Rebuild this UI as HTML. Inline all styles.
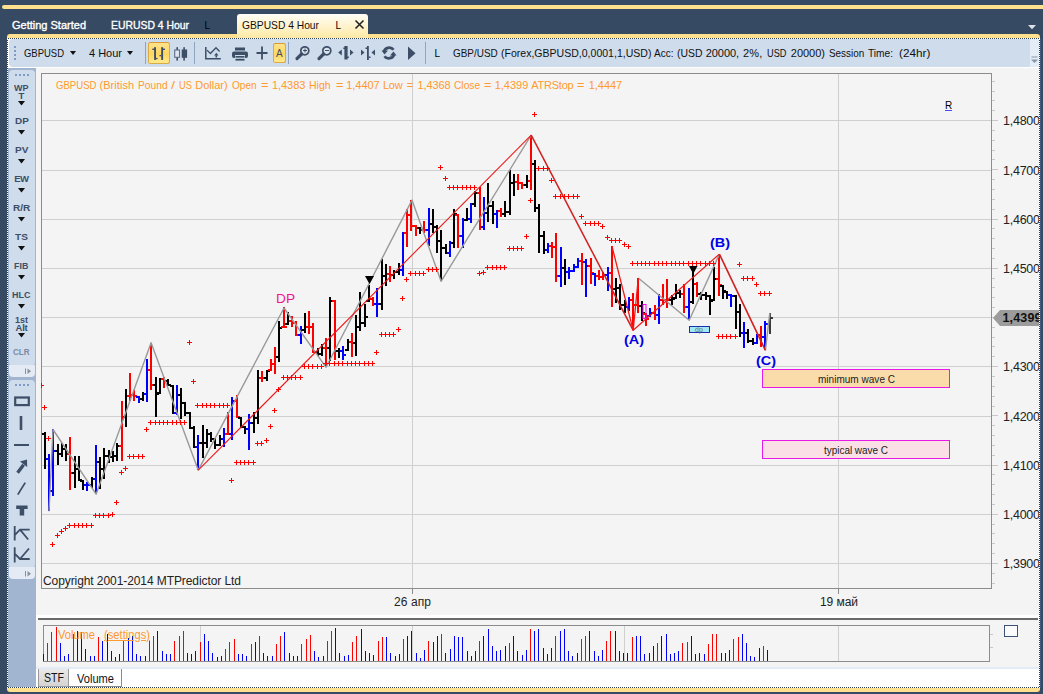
<!DOCTYPE html><html><head><meta charset="utf-8"><title>chart</title><style>
*{margin:0;padding:0;box-sizing:border-box}
html,body{width:1043px;height:694px;overflow:hidden;background:#374a63;font-family:"Liberation Sans",sans-serif;}
.abs{position:absolute}
#root{position:relative;width:1043px;height:694px;overflow:hidden;background:#374a63}
.t{position:absolute;white-space:nowrap;line-height:1}
</style></head><body><div id="root">
<div class="abs" style="left:2px;top:5px;width:1041px;height:4px;background:#ffe08f;border-radius:3px 0 0 3px"></div>
<div class="t" style="left:12px;top:20px;font-size:11px;color:#fff;letter-spacing:0.001px;-webkit-text-stroke:0.35px #fff;">Getting Started</div>
<div class="t" style="left:111px;top:20px;font-size:11px;color:#fff;transform-origin:0 0;transform:scaleX(0.9452);-webkit-text-stroke:0.35px #fff;">EURUSD 4 Hour</div>
<div class="t" style="left:204.5px;top:20.5px;font-size:10px;color:#000;">L</div>
<div class="abs" style="left:7px;top:34px;width:1033px;height:4px;background:#ffe08f;border-radius:3px 3px 0 0"></div>
<div class="abs" style="left:237px;top:14px;width:131px;height:24px;background:linear-gradient(#fffef6,#ffe9a4);border-radius:3px 3px 0 0"></div>
<div class="t" style="left:242px;top:20px;font-size:11px;color:#111;transform-origin:0 0;transform:scaleX(0.9330);">GBPUSD 4 Hour</div>
<div class="t" style="left:335.5px;top:20.5px;font-size:10px;color:#000;">L</div>
<svg class="abs" style="left:354px;top:19px" width="11" height="11"><path d="M1.5 1.5 L9.5 9.5 M9.5 1.5 L1.5 9.5" stroke="#222" stroke-width="1.6" fill="none"/></svg>
<svg class="abs" style="left:1028px;top:25px" width="9" height="5"><path d="M0 0 L8 0 L4 4.2 Z" fill="#dde1e8"/></svg>
<div class="abs" style="left:7px;top:38px;width:1033px;height:650px;background:#2f3f55;"></div>
<div class="abs" style="left:7px;top:38px;width:1033px;height:650px;background:#fff;border:1px dotted #fff;background-clip:padding-box"></div>
<div class="abs" style="left:9px;top:39px;width:1021px;height:27.5px;background:#cfdcec;border-radius:4px 0 0 4px"></div>
<div class="abs" style="left:1030px;top:39px;width:9px;height:27.5px;background:#e4ecf6;"></div>
<div class="abs" style="left:8px;top:68px;width:28px;height:619px;background:#a1b4d0;"></div>
<div class="abs" style="left:36px;top:68px;width:1003px;height:548px;background:#f4f4f4;"></div>
<div class="abs" style="left:36px;top:615px;width:1003px;height:3px;background:#fff;"></div>
<div class="abs" style="left:38px;top:618px;width:1000px;height:2px;background:#6a6a6a;"></div>
<div class="abs" style="left:36px;top:620px;width:1003px;height:48px;background:#f4f4f4;"></div>
<div class="abs" style="left:36px;top:667px;width:1003px;height:2px;background:#e3ebf7;"></div>
<div class="abs" style="left:7px;top:688px;width:1033px;height:4px;background:#ffe08f;border-radius:0 0 3px 3px"></div>
<div class="abs" style="left:1040px;top:39px;width:1px;height:649px;background:#41597c;"></div>
<div class="abs" style="left:14px;top:46px;width:2px;height:2px;background:#7f9ac3;"></div>
<div class="abs" style="left:14px;top:50px;width:2px;height:2px;background:#7f9ac3;"></div>
<div class="abs" style="left:14px;top:54px;width:2px;height:2px;background:#7f9ac3;"></div>
<div class="abs" style="left:14px;top:58px;width:2px;height:2px;background:#7f9ac3;"></div>
<div class="t" style="left:24px;top:48px;font-size:11px;color:#111;transform-origin:0 0;transform:scaleX(0.8610);">GBPUSD</div>
<svg class="abs" style="left:70px;top:51px" width="7" height="5"><path d="M0 0 L6 0 L3 4 Z" fill="#111"/></svg>
<div class="t" style="left:89px;top:48px;font-size:11px;color:#111;letter-spacing:-0.003px;">4 Hour</div>
<svg class="abs" style="left:127px;top:51px" width="7" height="5"><path d="M0 0 L6 0 L3 4 Z" fill="#111"/></svg>
<div class="abs" style="left:145px;top:42px;width:1px;height:22px;background:#8fa3c2;"></div>
<div class="abs" style="left:194px;top:42px;width:1px;height:22px;background:#8fa3c2;"></div>
<div class="abs" style="left:288px;top:42px;width:1px;height:22px;background:#8fa3c2;"></div>
<div class="abs" style="left:425px;top:42px;width:1px;height:22px;background:#8fa3c2;"></div>
<div class="abs" style="left:148px;top:42px;width:22px;height:22px;background:linear-gradient(#ffe38c,#ffd65e 55%,#ffe98f);border:1px solid #dcaa44;border-top-color:#d59a36;border-radius:2.5px"></div>
<svg class="abs" style="left:148px;top:42px" width="22" height="22"><g fill="#3d4e67"><rect x="6.1" y="5.2" width="1.9" height="12.700"/><rect x="4.300" y="6.600" width="2" height="1.400"/><rect x="8" y="15.900" width="1.600" height="1.300"/><rect x="13.200" y="5.200" width="1.900" height="12.700"/><rect x="15" y="6.600" width="2" height="1.400"/><rect x="11.500" y="13" width="1.800" height="1.300"/></g></svg>
<svg class="abs" style="left:172px;top:42px" width="18" height="22"><g fill="#3d4e67"><rect x="4.400" y="5.200" width="1.600" height="13.400"/><rect x="11.300" y="5.200" width="1.600" height="13.400"/><rect x="9.700" y="7.500" width="5.400" height="8.300"/></g><rect x="2.700" y="8" width="4.800" height="7.300" fill="#dfe6f0" stroke="#5d6d87" stroke-width="1.100"/></svg>
<svg class="abs" style="left:204px;top:45px" width="18" height="16"><g stroke="#3d4e67" stroke-width="1.500" fill="none"><path d="M1.800 2 V13.800 H16.800"/><path d="M3 5.100 L6.400 8.500 L12 2.800 L15.600 6.500" stroke-width="1.300"/></g><path d="M12.300 7.800 L14.500 10.400 H10.100 Z" fill="#3d4e67"/><rect x="11.500" y="10.200" width="1.600" height="2.300" fill="#3d4e67"/></svg>
<svg class="abs" style="left:231px;top:45.700px" width="18" height="16"><g fill="#3d4e67"><rect x="4" y="1.5" width="10" height="3"/><rect x="1" y="5.5" width="16" height="6.5" rx="2"/><rect x="4" y="9" width="10" height="6" fill="#cfdcec"/><rect x="4.5" y="10" width="9" height="1.6"/><rect x="4.5" y="12.8" width="9" height="1.8"/></g></svg>
<svg class="abs" style="left:255.500px;top:46px" width="13" height="14"><path d="M6 0.5 V13.5 M0.5 7 H11.5" stroke="#3d4e67" stroke-width="1.8"/></svg>
<div class="abs" style="left:273px;top:43px;width:13px;height:20px;background:linear-gradient(#ffe38c,#ffd65e 55%,#ffe98f);border:1px solid #dcaa44;border-top-color:#d59a36;border-radius:2.5px"></div>
<div class="t" style="left:276px;top:49px;font-size:10px;color:#3d4e67;">A</div>
<svg class="abs" style="left:294px;top:46px" width="18" height="15"><circle cx="10.800" cy="4.800" r="4" fill="#d9e2ef" stroke="#3d4e67" stroke-width="1.700"/><path d="M7.600 8 L3 12.600" stroke="#3d4e67" stroke-width="3.200" stroke-linecap="round"/><path d="M9 4.5 H13" stroke="#3d4e67" stroke-width="1"/><path d="M11 2.5 V6.5" stroke="#3d4e67" stroke-width="1"/></svg>
<svg class="abs" style="left:316px;top:46px" width="18" height="15"><circle cx="10.800" cy="4.800" r="4" fill="#d9e2ef" stroke="#3d4e67" stroke-width="1.700"/><path d="M7.600 8 L3 12.600" stroke="#3d4e67" stroke-width="3.200" stroke-linecap="round"/><path d="M9 4.5 H13" stroke="#3d4e67" stroke-width="1"/></svg>
<svg class="abs" style="left:337px;top:45px" width="18" height="16"><g fill="#3d4e67"><rect x="7.400" y="1" width="3.200" height="13.500"/><rect x="6.300" y="2.500" width="2" height="1.500"/><rect x="10" y="11.500" width="1.800" height="1.500"/><path d="M4.800 4.500 V10.500 L1.200 7.500 Z"/><path d="M13 4.500 V10.500 L16.600 7.500 Z"/></g></svg>
<svg class="abs" style="left:359px;top:45px" width="18" height="16"><g fill="#3d4e67"><rect x="8" y="1" width="1.8" height="14"/><rect x="6.5" y="2.5" width="2" height="1.5"/><rect x="9.5" y="11.5" width="2" height="1.5"/><path d="M2 4.5 V10.5 L5.5 7.5 Z"/><path d="M16 4.5 V10.5 L12.5 7.5 Z"/></g></svg>
<svg class="abs" style="left:381px;top:46px" width="16" height="14"><g fill="none" stroke="#3d4e67" stroke-width="2.800"><path d="M12.500 3.800 A5 4.200 0 0 0 3.200 5.500"/><path d="M3.500 10.200 A5 4.200 0 0 0 12.800 8.500"/></g><path d="M0.5 4.5 H7 L3.5 8.5 Z M15.5 9.5 H9 L12.5 5.5 Z" fill="#3d4e67"/></svg>
<svg class="abs" style="left:407px;top:46px" width="10" height="15"><path d="M1 0.5 L8.5 7.2 L1 14 Z" fill="#3d4e67"/></svg>
<div class="t" style="left:434.5px;top:48.5px;font-size:10px;color:#000;">L</div>
<div class="t" style="left:452.6px;top:47.5px;font-size:11px;color:#111;transform-origin:0 0;transform:scaleX(0.9028);">GBP/USD</div>
<div class="t" style="left:500.7px;top:47.5px;font-size:11px;color:#111;transform-origin:0 0;transform:scaleX(0.9573);">(Forex,GBPUSD,0,0001,1,USD)</div>
<div class="t" style="left:654.1px;top:47.5px;font-size:11px;color:#111;transform-origin:0 0;transform:scaleX(0.9114);">Acc:</div>
<div class="t" style="left:677.4px;top:47.5px;font-size:11px;color:#111;transform-origin:0 0;transform:scaleX(0.9446);">(USD</div>
<div class="t" style="left:705.8px;top:47.5px;font-size:11px;color:#111;letter-spacing:-0.089px;">20000,</div>
<div class="t" style="left:742.9px;top:47.5px;font-size:11px;color:#111;letter-spacing:0.222px;">2%,</div>
<div class="t" style="left:766.7px;top:47.5px;font-size:11px;color:#111;transform-origin:0 0;transform:scaleX(0.8353);">USD</div>
<div class="t" style="left:790.8px;top:47.5px;font-size:11px;color:#111;letter-spacing:-0.030px;">20000)</div>
<div class="t" style="left:828.8px;top:47.5px;font-size:11px;color:#111;transform-origin:0 0;transform:scaleX(0.8995);">Session</div>
<div class="t" style="left:868.4px;top:47.5px;font-size:11px;color:#111;transform-origin:0 0;transform:scaleX(0.9265);">Time:</div>
<div class="t" style="left:898.7px;top:47.5px;font-size:11px;color:#111;transform-origin:0 0;transform:scaleX(1.0667);">(24hr)</div>
<svg class="abs" style="left:1031px;top:56px" width="8" height="8"><path d="M0.5 1 H6.5" stroke="#8795ab" stroke-width="1"/><path d="M0 3.5 L7 3.5 L3.5 7 Z" fill="#8795ab"/></svg>
<div class="abs" style="left:9px;top:70px;width:25.5px;height:296px;background:#cfdcec;border-radius:4px 4px 4px 4px"></div>
<div class="abs" style="left:9px;top:365px;width:25.5px;height:12px;background:#e4ebf5;border-radius:0 0 4px 4px"></div>
<div class="abs" style="left:15px;top:74px;width:2px;height:1.5px;background:#7f9ac3;"></div>
<div class="abs" style="left:19px;top:74px;width:2px;height:1.5px;background:#7f9ac3;"></div>
<div class="abs" style="left:23px;top:74px;width:2px;height:1.5px;background:#7f9ac3;"></div>
<div class="abs" style="left:27px;top:74px;width:2px;height:1.5px;background:#7f9ac3;"></div>
<div class="t" style="left:14.35px;top:83.2px;font-size:9.5px;color:#3d4e67;font-weight:bold;transform-origin:0 0;transform:scaleX(0.9475);">WP</div>
<div class="t" style="left:18.6px;top:91.2px;font-size:9.5px;color:#3d4e67;font-weight:bold;letter-spacing:0.197px;">T</div>
<svg class="abs" style="left:18px;top:101px" width="8" height="5"><path d="M0 0 L7 0 L3.5 4.5 Z" fill="#111"/></svg>
<div class="t" style="left:14.7px;top:115.5px;font-size:9.5px;color:#3d4e67;font-weight:bold;transform-origin:0 0;transform:scaleX(1.0457);">DP</div>
<svg class="abs" style="left:18px;top:130px" width="8" height="5"><path d="M0 0 L7 0 L3.5 4.5 Z" fill="#111"/></svg>
<div class="t" style="left:14.9px;top:144.5px;font-size:9.5px;color:#3d4e67;font-weight:bold;transform-origin:0 0;transform:scaleX(1.0575);">PV</div>
<svg class="abs" style="left:18px;top:159px" width="8" height="5"><path d="M0 0 L7 0 L3.5 4.5 Z" fill="#111"/></svg>
<div class="t" style="left:14.25px;top:173.5px;font-size:9.5px;color:#3d4e67;font-weight:bold;letter-spacing:-0.603px;">EW</div>
<svg class="abs" style="left:18px;top:188px" width="8" height="5"><path d="M0 0 L7 0 L3.5 4.5 Z" fill="#111"/></svg>
<div class="t" style="left:12.95px;top:202.5px;font-size:9.5px;color:#3d4e67;font-weight:bold;transform-origin:0 0;transform:scaleX(1.0574);">R/R</div>
<svg class="abs" style="left:18px;top:217px" width="8" height="5"><path d="M0 0 L7 0 L3.5 4.5 Z" fill="#111"/></svg>
<div class="t" style="left:15.15px;top:231.5px;font-size:9.5px;color:#3d4e67;font-weight:bold;transform-origin:0 0;transform:scaleX(1.0627);">TS</div>
<svg class="abs" style="left:18px;top:246px" width="8" height="5"><path d="M0 0 L7 0 L3.5 4.5 Z" fill="#111"/></svg>
<div class="t" style="left:14.45px;top:260.5px;font-size:9.5px;color:#3d4e67;font-weight:bold;transform-origin:0 0;transform:scaleX(0.9345);">FIB</div>
<svg class="abs" style="left:18px;top:275px" width="8" height="5"><path d="M0 0 L7 0 L3.5 4.5 Z" fill="#111"/></svg>
<div class="t" style="left:12.4px;top:289.5px;font-size:9.5px;color:#3d4e67;font-weight:bold;transform-origin:0 0;transform:scaleX(0.9424);">HLC</div>
<svg class="abs" style="left:18px;top:304px" width="8" height="5"><path d="M0 0 L7 0 L3.5 4.5 Z" fill="#111"/></svg>
<div class="t" style="left:15.15px;top:314.5px;font-size:9.5px;color:#3d4e67;font-weight:bold;transform-origin:0 0;transform:scaleX(0.9395);">1st</div>
<div class="t" style="left:15.5px;top:322.5px;font-size:9.5px;color:#3d4e67;font-weight:bold;letter-spacing:-0.232px;">Alt</div>
<svg class="abs" style="left:18px;top:333px" width="8" height="5"><path d="M0 0 L7 0 L3.5 4.5 Z" fill="#111"/></svg>
<div class="t" style="left:13.3px;top:347.5px;font-size:9px;color:#7b8aa3;font-weight:bold;transform-origin:0 0;transform:scaleX(0.8974);">CLR</div>
<svg class="abs" style="left:25px;top:368px" width="7" height="7"><path d="M0.5 0.5 V6" stroke="#8a8f98" stroke-width="1"/><path d="M2.5 0.5 L6 3.2 L2.5 6 Z" fill="#8a8f98"/></svg>
<div class="abs" style="left:9px;top:380px;width:25.5px;height:188px;background:#cfdcec;border-radius:4px"></div>
<div class="abs" style="left:9px;top:567px;width:25.5px;height:11.5px;background:#e4ebf5;border-radius:0 0 4px 4px"></div>
<div class="abs" style="left:15px;top:384px;width:2px;height:1.5px;background:#7f9ac3;"></div>
<div class="abs" style="left:19px;top:384px;width:2px;height:1.5px;background:#7f9ac3;"></div>
<div class="abs" style="left:23px;top:384px;width:2px;height:1.5px;background:#7f9ac3;"></div>
<div class="abs" style="left:27px;top:384px;width:2px;height:1.5px;background:#7f9ac3;"></div>
<svg class="abs" style="left:9px;top:380px" width="26" height="200"><g stroke="#3d4e67" fill="none"><rect x="6.2" y="17.5" width="13.6" height="7.6" stroke-width="2.2"/><path d="M12 36 V50" stroke-width="2.6"/><path d="M5 65 H20" stroke-width="2"/><path d="M8.6 92.8 L14.6 84.8" stroke-width="3.4"/><path d="M8.8 114.6 L16.2 102.6" stroke-width="1.8"/><path d="M5.700 146 V160.500 M5.700 155.200 L11 149.700 H20.700 M11 149.700 L19.200 159.500" stroke-width="1.8"/><path d="M5.700 167.300 V182.500 M5.700 173.600 L11 179 H20.700 M11 179 L20 168.500" stroke-width="1.8"/></g><path d="M11 81.600 L18 79.400 L18.200 87 Z" fill="#3d4e67"/><path d="M7.200 125.400 H18.600 V129 H15.200 V135.600 H10.700 V129 H7.200 Z" fill="#3d4e67"/><path d="M16.500 191 V196.500" stroke="#8a8f98" stroke-width="1"/><path d="M18.500 191 L22 193.700 L18.500 196.500 Z" fill="#8a8f98"/></svg>
<div class="abs" style="left:36px;top:669px;width:1003px;height:18px;background:#fff;"></div>
<div class="abs" style="left:38px;top:669px;width:31px;height:18px;background:linear-gradient(#e9e9e9,#d4d4d4);border:1px solid #9a9a9a;border-top:none"></div>
<div class="t" style="left:44px;top:672px;font-size:12px;color:#111;transform-origin:0 0;transform:scaleX(0.8825);">STF</div>
<div class="abs" style="left:69px;top:669px;width:53px;height:18px;background:#fff;border-right:1px solid #8a8a8a;border-bottom:1px solid #8a8a8a"></div>
<div class="t" style="left:77px;top:673px;font-size:12px;color:#111;transform-origin:0 0;transform:scaleX(0.9244);">Volume</div>
<div class="abs" style="left:1004px;top:625px;width:14px;height:12px;background:#fbfbfd;border:1px solid #3d5277"></div>
<svg class="abs" style="left:0;top:0" width="1043" height="694" shape-rendering="auto">
<rect x="41.5" y="73.5" width="950" height="515" fill="#f4f4f4" stroke="#8c8c8c" stroke-width="1"/>
<rect x="42" y="120" width="949" height="1" fill="#cfcfcf"/>
<rect x="42" y="170" width="949" height="1" fill="#cfcfcf"/>
<rect x="42" y="219" width="949" height="1" fill="#cfcfcf"/>
<rect x="42" y="268" width="949" height="1" fill="#cfcfcf"/>
<rect x="42" y="317" width="949" height="1" fill="#cfcfcf"/>
<rect x="42" y="366" width="949" height="1" fill="#cfcfcf"/>
<rect x="42" y="416" width="949" height="1" fill="#cfcfcf"/>
<rect x="42" y="465" width="949" height="1" fill="#cfcfcf"/>
<rect x="42" y="514" width="949" height="1" fill="#cfcfcf"/>
<rect x="42" y="563" width="949" height="1" fill="#cfcfcf"/>
<rect x="412" y="74" width="1" height="514" fill="#cfcfcf"/>
<rect x="412" y="589" width="1" height="5" fill="#8c8c8c"/>
<rect x="838" y="74" width="1" height="514" fill="#cfcfcf"/>
<rect x="838" y="589" width="1" height="5" fill="#8c8c8c"/>
<rect x="992" y="81" width="3" height="1" fill="#c8c8c8"/>
<rect x="992" y="91" width="3" height="1" fill="#c8c8c8"/>
<rect x="992" y="100" width="3" height="1" fill="#c8c8c8"/>
<rect x="992" y="110" width="3" height="1" fill="#c8c8c8"/>
<rect x="992" y="120" width="6" height="1" fill="#c8c8c8"/>
<rect x="992" y="130" width="3" height="1" fill="#c8c8c8"/>
<rect x="992" y="140" width="3" height="1" fill="#c8c8c8"/>
<rect x="992" y="150" width="3" height="1" fill="#c8c8c8"/>
<rect x="992" y="159" width="3" height="1" fill="#c8c8c8"/>
<rect x="992" y="169" width="6" height="1" fill="#c8c8c8"/>
<rect x="992" y="179" width="3" height="1" fill="#c8c8c8"/>
<rect x="992" y="189" width="3" height="1" fill="#c8c8c8"/>
<rect x="992" y="199" width="3" height="1" fill="#c8c8c8"/>
<rect x="992" y="209" width="3" height="1" fill="#c8c8c8"/>
<rect x="992" y="219" width="6" height="1" fill="#c8c8c8"/>
<rect x="992" y="228" width="3" height="1" fill="#c8c8c8"/>
<rect x="992" y="238" width="3" height="1" fill="#c8c8c8"/>
<rect x="992" y="248" width="3" height="1" fill="#c8c8c8"/>
<rect x="992" y="258" width="3" height="1" fill="#c8c8c8"/>
<rect x="992" y="268" width="6" height="1" fill="#c8c8c8"/>
<rect x="992" y="278" width="3" height="1" fill="#c8c8c8"/>
<rect x="992" y="287" width="3" height="1" fill="#c8c8c8"/>
<rect x="992" y="297" width="3" height="1" fill="#c8c8c8"/>
<rect x="992" y="307" width="3" height="1" fill="#c8c8c8"/>
<rect x="992" y="317" width="6" height="1" fill="#c8c8c8"/>
<rect x="992" y="327" width="3" height="1" fill="#c8c8c8"/>
<rect x="992" y="337" width="3" height="1" fill="#c8c8c8"/>
<rect x="992" y="346" width="3" height="1" fill="#c8c8c8"/>
<rect x="992" y="356" width="3" height="1" fill="#c8c8c8"/>
<rect x="992" y="366" width="6" height="1" fill="#c8c8c8"/>
<rect x="992" y="376" width="3" height="1" fill="#c8c8c8"/>
<rect x="992" y="386" width="3" height="1" fill="#c8c8c8"/>
<rect x="992" y="396" width="3" height="1" fill="#c8c8c8"/>
<rect x="992" y="406" width="3" height="1" fill="#c8c8c8"/>
<rect x="992" y="415" width="6" height="1" fill="#c8c8c8"/>
<rect x="992" y="425" width="3" height="1" fill="#c8c8c8"/>
<rect x="992" y="435" width="3" height="1" fill="#c8c8c8"/>
<rect x="992" y="445" width="3" height="1" fill="#c8c8c8"/>
<rect x="992" y="455" width="3" height="1" fill="#c8c8c8"/>
<rect x="992" y="465" width="6" height="1" fill="#c8c8c8"/>
<rect x="992" y="474" width="3" height="1" fill="#c8c8c8"/>
<rect x="992" y="484" width="3" height="1" fill="#c8c8c8"/>
<rect x="992" y="494" width="3" height="1" fill="#c8c8c8"/>
<rect x="992" y="504" width="3" height="1" fill="#c8c8c8"/>
<rect x="992" y="514" width="6" height="1" fill="#c8c8c8"/>
<rect x="992" y="524" width="3" height="1" fill="#c8c8c8"/>
<rect x="992" y="533" width="3" height="1" fill="#c8c8c8"/>
<rect x="992" y="543" width="3" height="1" fill="#c8c8c8"/>
<rect x="992" y="553" width="3" height="1" fill="#c8c8c8"/>
<rect x="992" y="563" width="6" height="1" fill="#c8c8c8"/>
<rect x="992" y="573" width="3" height="1" fill="#c8c8c8"/>
<rect x="992" y="583" width="3" height="1" fill="#c8c8c8"/>
<g clip-path="url(#cp)">
<clipPath id="cp"><rect x="42" y="74" width="949" height="514"/></clipPath>
<g fill="#000"><rect x="44" y="432" width="2" height="37"/><rect x="42" y="433" width="2" height="2"/><rect x="46" y="458" width="2" height="2"/></g>
<g fill="#0000ff"><rect x="48" y="454" width="2" height="57"/><rect x="46" y="458" width="2" height="2"/><rect x="50" y="490" width="2" height="2"/></g>
<g fill="#0000ff"><rect x="52" y="429" width="2" height="67"/><rect x="50" y="490" width="2" height="2"/><rect x="54" y="450" width="2" height="2"/></g>
<g fill="#000"><rect x="57" y="444" width="2" height="21"/><rect x="55" y="450" width="2" height="2"/><rect x="59" y="453" width="2" height="2"/></g>
<g fill="#000"><rect x="61" y="443" width="2" height="14"/><rect x="59" y="453" width="2" height="2"/><rect x="63" y="448" width="2" height="2"/></g>
<g fill="#000"><rect x="65" y="444" width="2" height="17"/><rect x="63" y="448" width="2" height="2"/><rect x="67" y="453" width="2" height="2"/></g>
<g fill="#ff0000"><rect x="69" y="437" width="2" height="53"/><rect x="67" y="453" width="2" height="2"/><rect x="71" y="472" width="2" height="2"/></g>
<g fill="#000"><rect x="74" y="456" width="2" height="32"/><rect x="72" y="472" width="2" height="2"/><rect x="76" y="468" width="2" height="2"/></g>
<g fill="#000"><rect x="78" y="456" width="2" height="25"/><rect x="76" y="468" width="2" height="2"/><rect x="80" y="479" width="2" height="2"/></g>
<g fill="#000"><rect x="82" y="480" width="2" height="10"/><rect x="80" y="480" width="2" height="2"/><rect x="84" y="484" width="2" height="2"/></g>
<g fill="#0000ff"><rect x="86" y="482" width="2" height="9"/><rect x="84" y="484" width="2" height="2"/><rect x="88" y="484" width="2" height="2"/></g>
<g fill="#000"><rect x="91" y="477" width="2" height="11"/><rect x="89" y="484" width="2" height="2"/><rect x="93" y="478" width="2" height="2"/></g>
<g fill="#0000ff"><rect x="95" y="445" width="2" height="49"/><rect x="93" y="478" width="2" height="2"/><rect x="97" y="461" width="2" height="2"/></g>
<g fill="#000"><rect x="99" y="457" width="2" height="32"/><rect x="97" y="461" width="2" height="2"/><rect x="101" y="468" width="2" height="2"/></g>
<g fill="#000"><rect x="103" y="448" width="2" height="31"/><rect x="101" y="468" width="2" height="2"/><rect x="105" y="455" width="2" height="2"/></g>
<g fill="#000"><rect x="108" y="450" width="2" height="13"/><rect x="106" y="455" width="2" height="2"/><rect x="110" y="456" width="2" height="2"/></g>
<g fill="#000"><rect x="112" y="451" width="2" height="11"/><rect x="110" y="456" width="2" height="2"/><rect x="114" y="455" width="2" height="2"/></g>
<g fill="#000"><rect x="116" y="443" width="2" height="18"/><rect x="114" y="455" width="2" height="2"/><rect x="118" y="445" width="2" height="2"/></g>
<g fill="#ff0000"><rect x="121" y="401" width="2" height="60"/><rect x="119" y="445" width="2" height="2"/><rect x="123" y="416" width="2" height="2"/></g>
<g fill="#000"><rect x="125" y="389" width="2" height="38"/><rect x="123" y="416" width="2" height="2"/><rect x="127" y="395" width="2" height="2"/></g>
<g fill="#ff0000"><rect x="129" y="373" width="2" height="28"/><rect x="127" y="395" width="2" height="2"/><rect x="131" y="394" width="2" height="2"/></g>
<g fill="#ff0000"><rect x="133" y="390" width="2" height="11"/><rect x="131" y="394" width="2" height="2"/><rect x="135" y="395" width="2" height="2"/></g>
<g fill="#0000ff"><rect x="138" y="396" width="2" height="7"/><rect x="136" y="396" width="2" height="2"/><rect x="140" y="398" width="2" height="2"/></g>
<g fill="#000"><rect x="142" y="392" width="2" height="9"/><rect x="140" y="398" width="2" height="2"/><rect x="144" y="393" width="2" height="2"/></g>
<g fill="#0000ff"><rect x="146" y="359" width="2" height="43"/><rect x="144" y="393" width="2" height="2"/><rect x="148" y="369" width="2" height="2"/></g>
<g fill="#ff0000"><rect x="150" y="343" width="2" height="47"/><rect x="148" y="369" width="2" height="2"/><rect x="152" y="384" width="2" height="2"/></g>
<g fill="#000"><rect x="155" y="377" width="2" height="40"/><rect x="153" y="384" width="2" height="2"/><rect x="157" y="393" width="2" height="2"/></g>
<g fill="#000"><rect x="159" y="378" width="2" height="16"/><rect x="157" y="392" width="2" height="2"/><rect x="161" y="378" width="2" height="2"/></g>
<g fill="#ff0000"><rect x="163" y="377" width="2" height="11"/><rect x="161" y="378" width="2" height="2"/><rect x="165" y="380" width="2" height="2"/></g>
<g fill="#000"><rect x="167" y="379" width="2" height="7"/><rect x="165" y="380" width="2" height="2"/><rect x="169" y="384" width="2" height="2"/></g>
<g fill="#000"><rect x="172" y="385" width="2" height="29"/><rect x="170" y="385" width="2" height="2"/><rect x="174" y="412" width="2" height="2"/></g>
<g fill="#0000ff"><rect x="176" y="385" width="2" height="30"/><rect x="174" y="412" width="2" height="2"/><rect x="178" y="394" width="2" height="2"/></g>
<g fill="#000"><rect x="180" y="388" width="2" height="31"/><rect x="178" y="394" width="2" height="2"/><rect x="182" y="402" width="2" height="2"/></g>
<g fill="#000"><rect x="184" y="402" width="2" height="14"/><rect x="182" y="402" width="2" height="2"/><rect x="186" y="412" width="2" height="2"/></g>
<g fill="#000"><rect x="189" y="412" width="2" height="17"/><rect x="187" y="412" width="2" height="2"/><rect x="191" y="427" width="2" height="2"/></g>
<g fill="#000"><rect x="193" y="426" width="2" height="22"/><rect x="191" y="427" width="2" height="2"/><rect x="195" y="446" width="2" height="2"/></g>
<g fill="#0000ff"><rect x="197" y="435" width="2" height="35"/><rect x="195" y="446" width="2" height="2"/><rect x="199" y="442" width="2" height="2"/></g>
<g fill="#000"><rect x="202" y="425" width="2" height="33"/><rect x="200" y="442" width="2" height="2"/><rect x="204" y="442" width="2" height="2"/></g>
<g fill="#000"><rect x="206" y="429" width="2" height="19"/><rect x="204" y="442" width="2" height="2"/><rect x="208" y="433" width="2" height="2"/></g>
<g fill="#000"><rect x="210" y="432" width="2" height="10"/><rect x="208" y="433" width="2" height="2"/><rect x="212" y="438" width="2" height="2"/></g>
<g fill="#000"><rect x="214" y="438" width="2" height="11"/><rect x="212" y="438" width="2" height="2"/><rect x="216" y="444" width="2" height="2"/></g>
<g fill="#000"><rect x="219" y="435" width="2" height="11"/><rect x="217" y="444" width="2" height="2"/><rect x="221" y="438" width="2" height="2"/></g>
<g fill="#0000ff"><rect x="223" y="428" width="2" height="19"/><rect x="221" y="438" width="2" height="2"/><rect x="225" y="433" width="2" height="2"/></g>
<g fill="#ff0000"><rect x="227" y="412" width="2" height="23"/><rect x="225" y="433" width="2" height="2"/><rect x="229" y="433" width="2" height="2"/></g>
<g fill="#0000ff"><rect x="231" y="397" width="2" height="43"/><rect x="229" y="433" width="2" height="2"/><rect x="233" y="400" width="2" height="2"/></g>
<g fill="#ff0000"><rect x="236" y="395" width="2" height="23"/><rect x="234" y="400" width="2" height="2"/><rect x="238" y="416" width="2" height="2"/></g>
<g fill="#000"><rect x="240" y="417" width="2" height="11"/><rect x="238" y="417" width="2" height="2"/><rect x="242" y="426" width="2" height="2"/></g>
<g fill="#000"><rect x="244" y="426" width="2" height="8"/><rect x="242" y="426" width="2" height="2"/><rect x="246" y="428" width="2" height="2"/></g>
<g fill="#0000ff"><rect x="248" y="414" width="2" height="36"/><rect x="246" y="428" width="2" height="2"/><rect x="250" y="422" width="2" height="2"/></g>
<g fill="#000"><rect x="253" y="412" width="2" height="21"/><rect x="251" y="422" width="2" height="2"/><rect x="255" y="417" width="2" height="2"/></g>
<g fill="#000"><rect x="257" y="370" width="2" height="54"/><rect x="255" y="417" width="2" height="2"/><rect x="259" y="377" width="2" height="2"/></g>
<g fill="#ff0000"><rect x="261" y="371" width="2" height="11"/><rect x="259" y="377" width="2" height="2"/><rect x="263" y="377" width="2" height="2"/></g>
<g fill="#000"><rect x="266" y="370" width="2" height="11"/><rect x="264" y="377" width="2" height="2"/><rect x="268" y="370" width="2" height="2"/></g>
<g fill="#ff0000"><rect x="270" y="359" width="2" height="12"/><rect x="268" y="369" width="2" height="2"/><rect x="272" y="363" width="2" height="2"/></g>
<g fill="#ff0000"><rect x="274" y="347" width="2" height="27"/><rect x="272" y="363" width="2" height="2"/><rect x="276" y="356" width="2" height="2"/></g>
<g fill="#000"><rect x="278" y="321" width="2" height="41"/><rect x="276" y="356" width="2" height="2"/><rect x="280" y="327" width="2" height="2"/></g>
<g fill="#ff0000"><rect x="283" y="307" width="2" height="21"/><rect x="281" y="326" width="2" height="2"/><rect x="285" y="326" width="2" height="2"/></g>
<g fill="#000"><rect x="287" y="312" width="2" height="13"/><rect x="285" y="323" width="2" height="2"/><rect x="289" y="320" width="2" height="2"/></g>
<g fill="#ff0000"><rect x="291" y="316" width="2" height="11"/><rect x="289" y="320" width="2" height="2"/><rect x="293" y="322" width="2" height="2"/></g>
<g fill="#ff0000"><rect x="295" y="321" width="2" height="15"/><rect x="293" y="322" width="2" height="2"/><rect x="297" y="334" width="2" height="2"/></g>
<g fill="#0000ff"><rect x="300" y="326" width="2" height="18"/><rect x="298" y="334" width="2" height="2"/><rect x="302" y="329" width="2" height="2"/></g>
<g fill="#000"><rect x="304" y="313" width="2" height="20"/><rect x="302" y="329" width="2" height="2"/><rect x="306" y="326" width="2" height="2"/></g>
<g fill="#ff0000"><rect x="308" y="311" width="2" height="23"/><rect x="306" y="326" width="2" height="2"/><rect x="310" y="326" width="2" height="2"/></g>
<g fill="#ff0000"><rect x="312" y="323" width="2" height="30"/><rect x="310" y="326" width="2" height="2"/><rect x="314" y="351" width="2" height="2"/></g>
<g fill="#000"><rect x="317" y="348" width="2" height="8"/><rect x="315" y="351" width="2" height="2"/><rect x="319" y="353" width="2" height="2"/></g>
<g fill="#000"><rect x="321" y="344" width="2" height="12"/><rect x="319" y="353" width="2" height="2"/><rect x="323" y="347" width="2" height="2"/></g>
<g fill="#ff0000"><rect x="325" y="338" width="2" height="29"/><rect x="323" y="347" width="2" height="2"/><rect x="327" y="347" width="2" height="2"/></g>
<g fill="#000"><rect x="329" y="297" width="2" height="64"/><rect x="327" y="347" width="2" height="2"/><rect x="331" y="300" width="2" height="2"/></g>
<g fill="#ff0000"><rect x="334" y="300" width="2" height="60"/><rect x="332" y="300" width="2" height="2"/><rect x="336" y="350" width="2" height="2"/></g>
<g fill="#000"><rect x="338" y="348" width="2" height="10"/><rect x="336" y="350" width="2" height="2"/><rect x="340" y="350" width="2" height="2"/></g>
<g fill="#0000ff"><rect x="342" y="346" width="2" height="14"/><rect x="340" y="350" width="2" height="2"/><rect x="344" y="354" width="2" height="2"/></g>
<g fill="#000"><rect x="347" y="339" width="2" height="12"/><rect x="345" y="349" width="2" height="2"/><rect x="349" y="341" width="2" height="2"/></g>
<g fill="#ff0000"><rect x="351" y="333" width="2" height="24"/><rect x="349" y="341" width="2" height="2"/><rect x="353" y="342" width="2" height="2"/></g>
<g fill="#000"><rect x="355" y="315" width="2" height="41"/><rect x="353" y="342" width="2" height="2"/><rect x="357" y="326" width="2" height="2"/></g>
<g fill="#000"><rect x="359" y="292" width="2" height="39"/><rect x="357" y="326" width="2" height="2"/><rect x="361" y="322" width="2" height="2"/></g>
<g fill="#000"><rect x="364" y="304" width="2" height="23"/><rect x="362" y="322" width="2" height="2"/><rect x="366" y="316" width="2" height="2"/></g>
<g fill="#000"><rect x="368" y="285" width="2" height="17"/><rect x="366" y="300" width="2" height="2"/><rect x="370" y="298" width="2" height="2"/></g>
<g fill="#ff0000"><rect x="372" y="297" width="2" height="9"/><rect x="370" y="298" width="2" height="2"/><rect x="374" y="303" width="2" height="2"/></g>
<g fill="#0000ff"><rect x="376" y="288" width="2" height="29"/><rect x="374" y="303" width="2" height="2"/><rect x="378" y="303" width="2" height="2"/></g>
<g fill="#000"><rect x="381" y="259" width="2" height="51"/><rect x="379" y="303" width="2" height="2"/><rect x="383" y="275" width="2" height="2"/></g>
<g fill="#000"><rect x="385" y="264" width="2" height="22"/><rect x="383" y="275" width="2" height="2"/><rect x="387" y="273" width="2" height="2"/></g>
<g fill="#ff0000"><rect x="389" y="266" width="2" height="16"/><rect x="387" y="273" width="2" height="2"/><rect x="391" y="274" width="2" height="2"/></g>
<g fill="#000"><rect x="393" y="270" width="2" height="9"/><rect x="391" y="274" width="2" height="2"/><rect x="395" y="271" width="2" height="2"/></g>
<g fill="#000"><rect x="398" y="263" width="2" height="12"/><rect x="396" y="271" width="2" height="2"/><rect x="400" y="269" width="2" height="2"/></g>
<g fill="#0000ff"><rect x="402" y="232" width="2" height="44"/><rect x="400" y="269" width="2" height="2"/><rect x="404" y="232" width="2" height="2"/></g>
<g fill="#ff0000"><rect x="406" y="209" width="2" height="38"/><rect x="404" y="232" width="2" height="2"/><rect x="408" y="214" width="2" height="2"/></g>
<g fill="#ff0000"><rect x="410" y="200" width="2" height="31"/><rect x="408" y="214" width="2" height="2"/><rect x="412" y="225" width="2" height="2"/></g>
<g fill="#ff0000"><rect x="415" y="225" width="2" height="11"/><rect x="413" y="225" width="2" height="2"/><rect x="417" y="227" width="2" height="2"/></g>
<g fill="#000"><rect x="419" y="227" width="2" height="7"/><rect x="417" y="227" width="2" height="2"/><rect x="421" y="229" width="2" height="2"/></g>
<g fill="#ff0000"><rect x="423" y="221" width="2" height="12"/><rect x="421" y="229" width="2" height="2"/><rect x="425" y="229" width="2" height="2"/></g>
<g fill="#0000ff"><rect x="428" y="208" width="2" height="38"/><rect x="426" y="229" width="2" height="2"/><rect x="430" y="223" width="2" height="2"/></g>
<g fill="#000"><rect x="432" y="209" width="2" height="24"/><rect x="430" y="223" width="2" height="2"/><rect x="434" y="226" width="2" height="2"/></g>
<g fill="#000"><rect x="436" y="225" width="2" height="28"/><rect x="434" y="226" width="2" height="2"/><rect x="438" y="240" width="2" height="2"/></g>
<g fill="#000"><rect x="440" y="230" width="2" height="51"/><rect x="438" y="240" width="2" height="2"/><rect x="442" y="247" width="2" height="2"/></g>
<g fill="#000"><rect x="445" y="244" width="2" height="10"/><rect x="443" y="247" width="2" height="2"/><rect x="447" y="252" width="2" height="2"/></g>
<g fill="#0000ff"><rect x="449" y="241" width="2" height="16"/><rect x="447" y="252" width="2" height="2"/><rect x="451" y="242" width="2" height="2"/></g>
<g fill="#000"><rect x="453" y="209" width="2" height="39"/><rect x="451" y="242" width="2" height="2"/><rect x="455" y="213" width="2" height="2"/></g>
<g fill="#ff0000"><rect x="457" y="214" width="2" height="34"/><rect x="455" y="214" width="2" height="2"/><rect x="459" y="235" width="2" height="2"/></g>
<g fill="#0000ff"><rect x="462" y="218" width="2" height="30"/><rect x="460" y="235" width="2" height="2"/><rect x="464" y="219" width="2" height="2"/></g>
<g fill="#000"><rect x="466" y="208" width="2" height="13"/><rect x="464" y="219" width="2" height="2"/><rect x="468" y="218" width="2" height="2"/></g>
<g fill="#0000ff"><rect x="470" y="203" width="2" height="20"/><rect x="468" y="218" width="2" height="2"/><rect x="472" y="203" width="2" height="2"/></g>
<g fill="#000"><rect x="474" y="191" width="2" height="16"/><rect x="472" y="203" width="2" height="2"/><rect x="476" y="192" width="2" height="2"/></g>
<g fill="#ff0000"><rect x="479" y="187" width="2" height="43"/><rect x="477" y="192" width="2" height="2"/><rect x="481" y="226" width="2" height="2"/></g>
<g fill="#0000ff"><rect x="483" y="197" width="2" height="33"/><rect x="481" y="226" width="2" height="2"/><rect x="485" y="212" width="2" height="2"/></g>
<g fill="#000"><rect x="487" y="183" width="2" height="39"/><rect x="485" y="212" width="2" height="2"/><rect x="489" y="205" width="2" height="2"/></g>
<g fill="#000"><rect x="492" y="201" width="2" height="23"/><rect x="490" y="205" width="2" height="2"/><rect x="494" y="213" width="2" height="2"/></g>
<g fill="#0000ff"><rect x="496" y="210" width="2" height="18"/><rect x="494" y="213" width="2" height="2"/><rect x="498" y="210" width="2" height="2"/></g>
<g fill="#ff0000"><rect x="500" y="208" width="2" height="9"/><rect x="498" y="210" width="2" height="2"/><rect x="502" y="213" width="2" height="2"/></g>
<g fill="#000"><rect x="504" y="201" width="2" height="16"/><rect x="502" y="213" width="2" height="2"/><rect x="506" y="211" width="2" height="2"/></g>
<g fill="#000"><rect x="509" y="170" width="2" height="45"/><rect x="507" y="211" width="2" height="2"/><rect x="511" y="182" width="2" height="2"/></g>
<g fill="#000"><rect x="513" y="174" width="2" height="22"/><rect x="511" y="182" width="2" height="2"/><rect x="515" y="181" width="2" height="2"/></g>
<g fill="#ff0000"><rect x="517" y="174" width="2" height="16"/><rect x="515" y="181" width="2" height="2"/><rect x="519" y="182" width="2" height="2"/></g>
<g fill="#ff0000"><rect x="521" y="182" width="2" height="7"/><rect x="519" y="182" width="2" height="2"/><rect x="523" y="184" width="2" height="2"/></g>
<g fill="#000"><rect x="526" y="175" width="2" height="13"/><rect x="524" y="184" width="2" height="2"/><rect x="528" y="180" width="2" height="2"/></g>
<g fill="#ff0000"><rect x="530" y="135" width="2" height="55"/><rect x="528" y="180" width="2" height="2"/><rect x="532" y="163" width="2" height="2"/></g>
<g fill="#000"><rect x="534" y="160" width="2" height="52"/><rect x="532" y="163" width="2" height="2"/><rect x="536" y="207" width="2" height="2"/></g>
<g fill="#000"><rect x="538" y="204" width="2" height="49"/><rect x="536" y="207" width="2" height="2"/><rect x="540" y="235" width="2" height="2"/></g>
<g fill="#000"><rect x="543" y="231" width="2" height="23"/><rect x="541" y="235" width="2" height="2"/><rect x="545" y="249" width="2" height="2"/></g>
<g fill="#0000ff"><rect x="547" y="243" width="2" height="10"/><rect x="545" y="249" width="2" height="2"/><rect x="549" y="245" width="2" height="2"/></g>
<g fill="#ff0000"><rect x="551" y="242" width="2" height="16"/><rect x="549" y="245" width="2" height="2"/><rect x="553" y="246" width="2" height="2"/></g>
<g fill="#ff0000"><rect x="555" y="233" width="2" height="49"/><rect x="553" y="246" width="2" height="2"/><rect x="557" y="275" width="2" height="2"/></g>
<g fill="#0000ff"><rect x="560" y="247" width="2" height="40"/><rect x="558" y="275" width="2" height="2"/><rect x="562" y="267" width="2" height="2"/></g>
<g fill="#000"><rect x="564" y="259" width="2" height="26"/><rect x="562" y="267" width="2" height="2"/><rect x="566" y="271" width="2" height="2"/></g>
<g fill="#0000ff"><rect x="568" y="267" width="2" height="12"/><rect x="566" y="271" width="2" height="2"/><rect x="570" y="270" width="2" height="2"/></g>
<g fill="#0000ff"><rect x="573" y="264" width="2" height="8"/><rect x="571" y="270" width="2" height="2"/><rect x="575" y="266" width="2" height="2"/></g>
<g fill="#0000ff"><rect x="577" y="258" width="2" height="10"/><rect x="575" y="266" width="2" height="2"/><rect x="579" y="260" width="2" height="2"/></g>
<g fill="#ff0000"><rect x="581" y="253" width="2" height="32"/><rect x="579" y="260" width="2" height="2"/><rect x="583" y="261" width="2" height="2"/></g>
<g fill="#0000ff"><rect x="585" y="259" width="2" height="38"/><rect x="583" y="261" width="2" height="2"/><rect x="587" y="265" width="2" height="2"/></g>
<g fill="#ff0000"><rect x="590" y="258" width="2" height="26"/><rect x="588" y="265" width="2" height="2"/><rect x="592" y="272" width="2" height="2"/></g>
<g fill="#0000ff"><rect x="594" y="273" width="2" height="13"/><rect x="592" y="273" width="2" height="2"/><rect x="596" y="275" width="2" height="2"/></g>
<g fill="#ff0000"><rect x="598" y="270" width="2" height="10"/><rect x="596" y="275" width="2" height="2"/><rect x="600" y="276" width="2" height="2"/></g>
<g fill="#ff0000"><rect x="602" y="272" width="2" height="8"/><rect x="600" y="276" width="2" height="2"/><rect x="604" y="274" width="2" height="2"/></g>
<g fill="#0000ff"><rect x="607" y="267" width="2" height="24"/><rect x="605" y="274" width="2" height="2"/><rect x="609" y="272" width="2" height="2"/></g>
<g fill="#ff0000"><rect x="611" y="246" width="2" height="61"/><rect x="609" y="272" width="2" height="2"/><rect x="613" y="288" width="2" height="2"/></g>
<g fill="#000"><rect x="615" y="278" width="2" height="25"/><rect x="613" y="288" width="2" height="2"/><rect x="617" y="287" width="2" height="2"/></g>
<g fill="#000"><rect x="619" y="284" width="2" height="26"/><rect x="617" y="287" width="2" height="2"/><rect x="621" y="304" width="2" height="2"/></g>
<g fill="#000"><rect x="624" y="300" width="2" height="13"/><rect x="622" y="304" width="2" height="2"/><rect x="626" y="306" width="2" height="2"/></g>
<g fill="#0000ff"><rect x="628" y="297" width="2" height="14"/><rect x="626" y="306" width="2" height="2"/><rect x="630" y="299" width="2" height="2"/></g>
<g fill="#ff0000"><rect x="632" y="293" width="2" height="37"/><rect x="630" y="299" width="2" height="2"/><rect x="634" y="304" width="2" height="2"/></g>
<g fill="#ff0000"><rect x="637" y="278" width="2" height="35"/><rect x="635" y="304" width="2" height="2"/><rect x="639" y="305" width="2" height="2"/></g>
<g fill="#000"><rect x="641" y="301" width="2" height="20"/><rect x="639" y="305" width="2" height="2"/><rect x="643" y="312" width="2" height="2"/></g>
<g fill="#ff0000"><rect x="645" y="313" width="2" height="13"/><rect x="643" y="313" width="2" height="2"/><rect x="647" y="318" width="2" height="2"/></g>
<g fill="#0000ff"><rect x="649" y="308" width="2" height="9"/><rect x="647" y="315" width="2" height="2"/><rect x="651" y="312" width="2" height="2"/></g>
<g fill="#ff0000"><rect x="654" y="305" width="2" height="15"/><rect x="652" y="312" width="2" height="2"/><rect x="656" y="314" width="2" height="2"/></g>
<g fill="#0000ff"><rect x="658" y="294" width="2" height="30"/><rect x="656" y="314" width="2" height="2"/><rect x="660" y="299" width="2" height="2"/></g>
<g fill="#ff0000"><rect x="662" y="284" width="2" height="21"/><rect x="660" y="299" width="2" height="2"/><rect x="664" y="299" width="2" height="2"/></g>
<g fill="#ff0000"><rect x="666" y="279" width="2" height="29"/><rect x="664" y="299" width="2" height="2"/><rect x="668" y="299" width="2" height="2"/></g>
<g fill="#000"><rect x="671" y="295" width="2" height="10"/><rect x="669" y="299" width="2" height="2"/><rect x="673" y="298" width="2" height="2"/></g>
<g fill="#000"><rect x="675" y="284" width="2" height="15"/><rect x="673" y="297" width="2" height="2"/><rect x="677" y="292" width="2" height="2"/></g>
<g fill="#000"><rect x="679" y="290" width="2" height="8"/><rect x="677" y="292" width="2" height="2"/><rect x="681" y="293" width="2" height="2"/></g>
<g fill="#ff0000"><rect x="683" y="284" width="2" height="29"/><rect x="681" y="293" width="2" height="2"/><rect x="685" y="306" width="2" height="2"/></g>
<g fill="#0000ff"><rect x="688" y="288" width="2" height="32"/><rect x="686" y="306" width="2" height="2"/><rect x="690" y="301" width="2" height="2"/></g>
<g fill="#000"><rect x="692" y="271" width="2" height="33"/><rect x="690" y="301" width="2" height="2"/><rect x="694" y="283" width="2" height="2"/></g>
<g fill="#ff0000"><rect x="696" y="282" width="2" height="15"/><rect x="694" y="283" width="2" height="2"/><rect x="698" y="293" width="2" height="2"/></g>
<g fill="#000"><rect x="700" y="292" width="2" height="8"/><rect x="698" y="293" width="2" height="2"/><rect x="702" y="294" width="2" height="2"/></g>
<g fill="#000"><rect x="705" y="292" width="2" height="8"/><rect x="703" y="294" width="2" height="2"/><rect x="707" y="295" width="2" height="2"/></g>
<g fill="#000"><rect x="709" y="295" width="2" height="20"/><rect x="707" y="295" width="2" height="2"/><rect x="711" y="300" width="2" height="2"/></g>
<g fill="#000"><rect x="713" y="267" width="2" height="34"/><rect x="711" y="299" width="2" height="2"/><rect x="715" y="278" width="2" height="2"/></g>
<g fill="#ff0000"><rect x="718" y="255" width="2" height="41"/><rect x="716" y="278" width="2" height="2"/><rect x="720" y="284" width="2" height="2"/></g>
<g fill="#000"><rect x="722" y="285" width="2" height="14"/><rect x="720" y="285" width="2" height="2"/><rect x="724" y="290" width="2" height="2"/></g>
<g fill="#000"><rect x="726" y="291" width="2" height="8"/><rect x="724" y="291" width="2" height="2"/><rect x="728" y="294" width="2" height="2"/></g>
<g fill="#0000ff"><rect x="730" y="294" width="2" height="13"/><rect x="728" y="294" width="2" height="2"/><rect x="732" y="295" width="2" height="2"/></g>
<g fill="#000"><rect x="735" y="295" width="2" height="34"/><rect x="733" y="295" width="2" height="2"/><rect x="737" y="311" width="2" height="2"/></g>
<g fill="#000"><rect x="739" y="304" width="2" height="33"/><rect x="737" y="311" width="2" height="2"/><rect x="741" y="332" width="2" height="2"/></g>
<g fill="#0000ff"><rect x="743" y="322" width="2" height="26"/><rect x="741" y="332" width="2" height="2"/><rect x="745" y="332" width="2" height="2"/></g>
<g fill="#000"><rect x="747" y="329" width="2" height="14"/><rect x="745" y="332" width="2" height="2"/><rect x="749" y="340" width="2" height="2"/></g>
<g fill="#000"><rect x="752" y="338" width="2" height="7"/><rect x="750" y="340" width="2" height="2"/><rect x="754" y="342" width="2" height="2"/></g>
<g fill="#0000ff"><rect x="756" y="334" width="2" height="10"/><rect x="754" y="342" width="2" height="2"/><rect x="758" y="334" width="2" height="2"/></g>
<g fill="#ff0000"><rect x="760" y="326" width="2" height="21"/><rect x="758" y="334" width="2" height="2"/><rect x="762" y="336" width="2" height="2"/></g>
<g fill="#0000ff"><rect x="764" y="321" width="2" height="29"/><rect x="762" y="336" width="2" height="2"/><rect x="766" y="323" width="2" height="2"/></g>
<g fill="#3a3a3a"><rect x="769" y="313" width="2" height="21"/><rect x="767" y="323" width="2" height="2"/><rect x="771" y="317" width="2" height="2"/></g>
<polyline points="49.0,511.3 53.0,429.5 96.1,494.2 151.1,342.7 198.3,470.2 284.0,308.0 326.1,367.3 412.0,200.1 441.1,281.3 531.2,135.1" fill="none" stroke="#999" stroke-width="1.4" stroke-linejoin="round"/>
<polyline points="638.3,278.0 689.2,320.2 719.4,254.1" fill="none" stroke="#999" stroke-width="1.4" stroke-linejoin="round"/>
<polyline points="765.4,350.3 769.8,313.2" fill="none" stroke="#999" stroke-width="1.4" stroke-linejoin="round"/>
<polyline points="198.3,470.2 531.2,135.1" fill="none" stroke="#f01818" stroke-width="1.1" stroke-linejoin="round"/>
<polyline points="531.2,135.1 633.2,330.3" fill="none" stroke="#d02020" stroke-width="1.5" stroke-linejoin="round"/>
<polyline points="612.0,246.5 633.2,330.3 638.3,278.0" fill="none" stroke="#f01818" stroke-width="1.3" stroke-linejoin="round"/>
<polyline points="633.2,330.3 719.4,254.1" fill="none" stroke="#f01818" stroke-width="1.2" stroke-linejoin="round"/>
<polyline points="719.4,254.1 765.4,350.3" fill="none" stroke="#d02020" stroke-width="1.6" stroke-linejoin="round"/>
<g fill="#ff0000">
<rect x="37" y="385" width="5" height="1"/><rect x="39" y="383" width="1" height="5"/>
<rect x="42" y="407" width="5" height="1"/><rect x="44" y="405" width="1" height="5"/>
<rect x="46" y="438" width="5" height="1"/><rect x="48" y="436" width="1" height="5"/>
<rect x="50" y="544" width="5" height="1"/><rect x="52" y="542" width="1" height="5"/>
<rect x="55" y="535" width="5" height="1"/><rect x="57" y="533" width="1" height="5"/>
<rect x="59" y="531" width="5" height="1"/><rect x="61" y="529" width="1" height="5"/>
<rect x="63" y="528" width="5" height="1"/><rect x="65" y="526" width="1" height="5"/>
<rect x="67" y="525" width="5" height="1"/><rect x="69" y="523" width="1" height="5"/>
<rect x="72" y="525" width="5" height="1"/><rect x="74" y="523" width="1" height="5"/>
<rect x="76" y="525" width="5" height="1"/><rect x="78" y="523" width="1" height="5"/>
<rect x="80" y="525" width="5" height="1"/><rect x="82" y="523" width="1" height="5"/>
<rect x="84" y="525" width="5" height="1"/><rect x="86" y="523" width="1" height="5"/>
<rect x="89" y="525" width="5" height="1"/><rect x="91" y="523" width="1" height="5"/>
<rect x="93" y="515" width="5" height="1"/><rect x="95" y="513" width="1" height="5"/>
<rect x="97" y="515" width="5" height="1"/><rect x="99" y="513" width="1" height="5"/>
<rect x="101" y="515" width="5" height="1"/><rect x="103" y="513" width="1" height="5"/>
<rect x="106" y="515" width="5" height="1"/><rect x="108" y="513" width="1" height="5"/>
<rect x="110" y="514" width="5" height="1"/><rect x="112" y="512" width="1" height="5"/>
<rect x="114" y="502" width="5" height="1"/><rect x="116" y="500" width="1" height="5"/>
<rect x="119" y="472" width="5" height="1"/><rect x="121" y="470" width="1" height="5"/>
<rect x="123" y="468" width="5" height="1"/><rect x="125" y="466" width="1" height="5"/>
<rect x="127" y="456" width="5" height="1"/><rect x="129" y="454" width="1" height="5"/>
<rect x="131" y="456" width="5" height="1"/><rect x="133" y="454" width="1" height="5"/>
<rect x="136" y="456" width="5" height="1"/><rect x="138" y="454" width="1" height="5"/>
<rect x="140" y="456" width="5" height="1"/><rect x="142" y="454" width="1" height="5"/>
<rect x="144" y="429" width="5" height="1"/><rect x="146" y="427" width="1" height="5"/>
<rect x="148" y="422" width="5" height="1"/><rect x="150" y="420" width="1" height="5"/>
<rect x="153" y="422" width="5" height="1"/><rect x="155" y="420" width="1" height="5"/>
<rect x="157" y="422" width="5" height="1"/><rect x="159" y="420" width="1" height="5"/>
<rect x="161" y="422" width="5" height="1"/><rect x="163" y="420" width="1" height="5"/>
<rect x="165" y="422" width="5" height="1"/><rect x="167" y="420" width="1" height="5"/>
<rect x="170" y="422" width="5" height="1"/><rect x="172" y="420" width="1" height="5"/>
<rect x="174" y="422" width="5" height="1"/><rect x="176" y="420" width="1" height="5"/>
<rect x="178" y="422" width="5" height="1"/><rect x="180" y="420" width="1" height="5"/>
<rect x="182" y="422" width="5" height="1"/><rect x="184" y="420" width="1" height="5"/>
<rect x="187" y="342" width="5" height="1"/><rect x="189" y="340" width="1" height="5"/>
<rect x="191" y="381" width="5" height="1"/><rect x="193" y="379" width="1" height="5"/>
<rect x="195" y="405" width="5" height="1"/><rect x="197" y="403" width="1" height="5"/>
<rect x="200" y="405" width="5" height="1"/><rect x="202" y="403" width="1" height="5"/>
<rect x="204" y="405" width="5" height="1"/><rect x="206" y="403" width="1" height="5"/>
<rect x="208" y="405" width="5" height="1"/><rect x="210" y="403" width="1" height="5"/>
<rect x="212" y="405" width="5" height="1"/><rect x="214" y="403" width="1" height="5"/>
<rect x="217" y="405" width="5" height="1"/><rect x="219" y="403" width="1" height="5"/>
<rect x="221" y="405" width="5" height="1"/><rect x="223" y="403" width="1" height="5"/>
<rect x="225" y="405" width="5" height="1"/><rect x="227" y="403" width="1" height="5"/>
<rect x="229" y="480" width="5" height="1"/><rect x="231" y="478" width="1" height="5"/>
<rect x="234" y="462" width="5" height="1"/><rect x="236" y="460" width="1" height="5"/>
<rect x="238" y="462" width="5" height="1"/><rect x="240" y="460" width="1" height="5"/>
<rect x="242" y="462" width="5" height="1"/><rect x="244" y="460" width="1" height="5"/>
<rect x="246" y="462" width="5" height="1"/><rect x="248" y="460" width="1" height="5"/>
<rect x="251" y="462" width="5" height="1"/><rect x="253" y="460" width="1" height="5"/>
<rect x="255" y="443" width="5" height="1"/><rect x="257" y="441" width="1" height="5"/>
<rect x="259" y="443" width="5" height="1"/><rect x="261" y="441" width="1" height="5"/>
<rect x="264" y="440" width="5" height="1"/><rect x="266" y="438" width="1" height="5"/>
<rect x="268" y="426" width="5" height="1"/><rect x="270" y="424" width="1" height="5"/>
<rect x="272" y="410" width="5" height="1"/><rect x="274" y="408" width="1" height="5"/>
<rect x="276" y="389" width="5" height="1"/><rect x="278" y="387" width="1" height="5"/>
<rect x="281" y="377" width="5" height="1"/><rect x="283" y="375" width="1" height="5"/>
<rect x="285" y="377" width="5" height="1"/><rect x="287" y="375" width="1" height="5"/>
<rect x="289" y="377" width="5" height="1"/><rect x="291" y="375" width="1" height="5"/>
<rect x="293" y="377" width="5" height="1"/><rect x="295" y="375" width="1" height="5"/>
<rect x="298" y="377" width="5" height="1"/><rect x="300" y="375" width="1" height="5"/>
<rect x="302" y="366" width="5" height="1"/><rect x="304" y="364" width="1" height="5"/>
<rect x="306" y="366" width="5" height="1"/><rect x="308" y="364" width="1" height="5"/>
<rect x="310" y="366" width="5" height="1"/><rect x="312" y="364" width="1" height="5"/>
<rect x="315" y="366" width="5" height="1"/><rect x="317" y="364" width="1" height="5"/>
<rect x="319" y="366" width="5" height="1"/><rect x="321" y="364" width="1" height="5"/>
<rect x="323" y="363" width="5" height="1"/><rect x="325" y="361" width="1" height="5"/>
<rect x="327" y="363" width="5" height="1"/><rect x="329" y="361" width="1" height="5"/>
<rect x="332" y="363" width="5" height="1"/><rect x="334" y="361" width="1" height="5"/>
<rect x="336" y="363" width="5" height="1"/><rect x="338" y="361" width="1" height="5"/>
<rect x="340" y="363" width="5" height="1"/><rect x="342" y="361" width="1" height="5"/>
<rect x="345" y="363" width="5" height="1"/><rect x="347" y="361" width="1" height="5"/>
<rect x="349" y="363" width="5" height="1"/><rect x="351" y="361" width="1" height="5"/>
<rect x="353" y="363" width="5" height="1"/><rect x="355" y="361" width="1" height="5"/>
<rect x="357" y="363" width="5" height="1"/><rect x="359" y="361" width="1" height="5"/>
<rect x="362" y="363" width="5" height="1"/><rect x="364" y="361" width="1" height="5"/>
<rect x="366" y="363" width="5" height="1"/><rect x="368" y="361" width="1" height="5"/>
<rect x="370" y="363" width="5" height="1"/><rect x="372" y="361" width="1" height="5"/>
<rect x="374" y="352" width="5" height="1"/><rect x="376" y="350" width="1" height="5"/>
<rect x="379" y="334" width="5" height="1"/><rect x="381" y="332" width="1" height="5"/>
<rect x="383" y="334" width="5" height="1"/><rect x="385" y="332" width="1" height="5"/>
<rect x="387" y="334" width="5" height="1"/><rect x="389" y="332" width="1" height="5"/>
<rect x="391" y="334" width="5" height="1"/><rect x="393" y="332" width="1" height="5"/>
<rect x="396" y="329" width="5" height="1"/><rect x="398" y="327" width="1" height="5"/>
<rect x="400" y="298" width="5" height="1"/><rect x="402" y="296" width="1" height="5"/>
<rect x="404" y="279" width="5" height="1"/><rect x="406" y="277" width="1" height="5"/>
<rect x="408" y="273" width="5" height="1"/><rect x="410" y="271" width="1" height="5"/>
<rect x="413" y="273" width="5" height="1"/><rect x="415" y="271" width="1" height="5"/>
<rect x="417" y="273" width="5" height="1"/><rect x="419" y="271" width="1" height="5"/>
<rect x="421" y="273" width="5" height="1"/><rect x="423" y="271" width="1" height="5"/>
<rect x="426" y="269" width="5" height="1"/><rect x="428" y="267" width="1" height="5"/>
<rect x="430" y="269" width="5" height="1"/><rect x="432" y="267" width="1" height="5"/>
<rect x="434" y="269" width="5" height="1"/><rect x="436" y="267" width="1" height="5"/>
<rect x="438" y="167" width="5" height="1"/><rect x="440" y="165" width="1" height="5"/>
<rect x="443" y="178" width="5" height="1"/><rect x="445" y="176" width="1" height="5"/>
<rect x="447" y="187" width="5" height="1"/><rect x="449" y="185" width="1" height="5"/>
<rect x="451" y="187" width="5" height="1"/><rect x="453" y="185" width="1" height="5"/>
<rect x="455" y="187" width="5" height="1"/><rect x="457" y="185" width="1" height="5"/>
<rect x="460" y="187" width="5" height="1"/><rect x="462" y="185" width="1" height="5"/>
<rect x="464" y="187" width="5" height="1"/><rect x="466" y="185" width="1" height="5"/>
<rect x="468" y="187" width="5" height="1"/><rect x="470" y="185" width="1" height="5"/>
<rect x="472" y="187" width="5" height="1"/><rect x="474" y="185" width="1" height="5"/>
<rect x="477" y="273" width="5" height="1"/><rect x="479" y="271" width="1" height="5"/>
<rect x="481" y="272" width="5" height="1"/><rect x="483" y="270" width="1" height="5"/>
<rect x="485" y="267" width="5" height="1"/><rect x="487" y="265" width="1" height="5"/>
<rect x="490" y="267" width="5" height="1"/><rect x="492" y="265" width="1" height="5"/>
<rect x="494" y="267" width="5" height="1"/><rect x="496" y="265" width="1" height="5"/>
<rect x="498" y="267" width="5" height="1"/><rect x="500" y="265" width="1" height="5"/>
<rect x="502" y="267" width="5" height="1"/><rect x="504" y="265" width="1" height="5"/>
<rect x="507" y="248" width="5" height="1"/><rect x="509" y="246" width="1" height="5"/>
<rect x="511" y="248" width="5" height="1"/><rect x="513" y="246" width="1" height="5"/>
<rect x="515" y="248" width="5" height="1"/><rect x="517" y="246" width="1" height="5"/>
<rect x="519" y="248" width="5" height="1"/><rect x="521" y="246" width="1" height="5"/>
<rect x="524" y="236" width="5" height="1"/><rect x="526" y="234" width="1" height="5"/>
<rect x="528" y="200" width="5" height="1"/><rect x="530" y="198" width="1" height="5"/>
<rect x="532" y="114" width="5" height="1"/><rect x="534" y="112" width="1" height="5"/>
<rect x="536" y="168" width="5" height="1"/><rect x="538" y="166" width="1" height="5"/>
<rect x="541" y="168" width="5" height="1"/><rect x="543" y="166" width="1" height="5"/>
<rect x="545" y="168" width="5" height="1"/><rect x="547" y="166" width="1" height="5"/>
<rect x="549" y="180" width="5" height="1"/><rect x="551" y="178" width="1" height="5"/>
<rect x="553" y="196" width="5" height="1"/><rect x="555" y="194" width="1" height="5"/>
<rect x="558" y="196" width="5" height="1"/><rect x="560" y="194" width="1" height="5"/>
<rect x="562" y="196" width="5" height="1"/><rect x="564" y="194" width="1" height="5"/>
<rect x="566" y="196" width="5" height="1"/><rect x="568" y="194" width="1" height="5"/>
<rect x="571" y="196" width="5" height="1"/><rect x="573" y="194" width="1" height="5"/>
<rect x="575" y="196" width="5" height="1"/><rect x="577" y="194" width="1" height="5"/>
<rect x="579" y="216" width="5" height="1"/><rect x="581" y="214" width="1" height="5"/>
<rect x="583" y="223" width="5" height="1"/><rect x="585" y="221" width="1" height="5"/>
<rect x="588" y="223" width="5" height="1"/><rect x="590" y="221" width="1" height="5"/>
<rect x="592" y="223" width="5" height="1"/><rect x="594" y="221" width="1" height="5"/>
<rect x="596" y="223" width="5" height="1"/><rect x="598" y="221" width="1" height="5"/>
<rect x="600" y="226" width="5" height="1"/><rect x="602" y="224" width="1" height="5"/>
<rect x="605" y="237" width="5" height="1"/><rect x="607" y="235" width="1" height="5"/>
<rect x="609" y="240" width="5" height="1"/><rect x="611" y="238" width="1" height="5"/>
<rect x="613" y="240" width="5" height="1"/><rect x="615" y="238" width="1" height="5"/>
<rect x="617" y="240" width="5" height="1"/><rect x="619" y="238" width="1" height="5"/>
<rect x="622" y="244" width="5" height="1"/><rect x="624" y="242" width="1" height="5"/>
<rect x="626" y="246" width="5" height="1"/><rect x="628" y="244" width="1" height="5"/>
<rect x="630" y="263" width="5" height="1"/><rect x="632" y="261" width="1" height="5"/>
<rect x="635" y="263" width="5" height="1"/><rect x="637" y="261" width="1" height="5"/>
<rect x="639" y="263" width="5" height="1"/><rect x="641" y="261" width="1" height="5"/>
<rect x="643" y="263" width="5" height="1"/><rect x="645" y="261" width="1" height="5"/>
<rect x="647" y="263" width="5" height="1"/><rect x="649" y="261" width="1" height="5"/>
<rect x="652" y="263" width="5" height="1"/><rect x="654" y="261" width="1" height="5"/>
<rect x="656" y="263" width="5" height="1"/><rect x="658" y="261" width="1" height="5"/>
<rect x="660" y="263" width="5" height="1"/><rect x="662" y="261" width="1" height="5"/>
<rect x="664" y="263" width="5" height="1"/><rect x="666" y="261" width="1" height="5"/>
<rect x="669" y="263" width="5" height="1"/><rect x="671" y="261" width="1" height="5"/>
<rect x="673" y="263" width="5" height="1"/><rect x="675" y="261" width="1" height="5"/>
<rect x="677" y="263" width="5" height="1"/><rect x="679" y="261" width="1" height="5"/>
<rect x="681" y="263" width="5" height="1"/><rect x="683" y="261" width="1" height="5"/>
<rect x="686" y="263" width="5" height="1"/><rect x="688" y="261" width="1" height="5"/>
<rect x="690" y="263" width="5" height="1"/><rect x="692" y="261" width="1" height="5"/>
<rect x="694" y="263" width="5" height="1"/><rect x="696" y="261" width="1" height="5"/>
<rect x="698" y="263" width="5" height="1"/><rect x="700" y="261" width="1" height="5"/>
<rect x="703" y="263" width="5" height="1"/><rect x="705" y="261" width="1" height="5"/>
<rect x="707" y="263" width="5" height="1"/><rect x="709" y="261" width="1" height="5"/>
<rect x="711" y="263" width="5" height="1"/><rect x="713" y="261" width="1" height="5"/>
<rect x="716" y="336" width="5" height="1"/><rect x="718" y="334" width="1" height="5"/>
<rect x="720" y="336" width="5" height="1"/><rect x="722" y="334" width="1" height="5"/>
<rect x="724" y="336" width="5" height="1"/><rect x="726" y="334" width="1" height="5"/>
<rect x="728" y="336" width="5" height="1"/><rect x="730" y="334" width="1" height="5"/>
<rect x="733" y="336" width="5" height="1"/><rect x="735" y="334" width="1" height="5"/>
<rect x="737" y="264" width="5" height="1"/><rect x="739" y="262" width="1" height="5"/>
<rect x="741" y="278" width="5" height="1"/><rect x="743" y="276" width="1" height="5"/>
<rect x="745" y="278" width="5" height="1"/><rect x="747" y="276" width="1" height="5"/>
<rect x="750" y="278" width="5" height="1"/><rect x="752" y="276" width="1" height="5"/>
<rect x="754" y="284" width="5" height="1"/><rect x="756" y="282" width="1" height="5"/>
<rect x="758" y="293" width="5" height="1"/><rect x="760" y="291" width="1" height="5"/>
<rect x="762" y="293" width="5" height="1"/><rect x="764" y="291" width="1" height="5"/>
<rect x="767" y="293" width="5" height="1"/><rect x="769" y="291" width="1" height="5"/>
</g>
<path d="M365 276 H374 L369.500 284 Z" fill="#000"/>
<path d="M689 266 H697.500 L693.200 274 Z" fill="#000"/>
<rect x="643" y="304.5" width="3" height="14" fill="none" stroke="#ff00ff" stroke-width="1"/>
<rect x="689.5" y="326.5" width="20" height="6" fill="#9fe8f4" stroke="#1a2fb0" stroke-width="1"/>
<rect x="762.5" y="369.5" width="187" height="18" fill="#fadcaa" stroke="#e818e8" stroke-width="1"/>
<rect x="762.5" y="440.5" width="187" height="18" fill="#fae0e6" stroke="#e818e8" stroke-width="1"/>
</g>
<g fill="#ff0000"><rect x="41" y="385" width="3" height="1"/><rect x="41" y="383" width="1" height="5"/></g>
<path d="M993 318 L1000 310 H1039 V326 H1000 Z" fill="#9c9c9c"/>
</svg>
<div class="t" style="left:55.7px;top:79.6px;font-size:11px;color:#ff9a2e;transform-origin:0 0;transform:scaleX(0.8718);">GBPUSD</div>
<div class="t" style="left:99.4px;top:79.6px;font-size:11px;color:#ff9a2e;letter-spacing:0.082px;">(British</div>
<div class="t" style="left:137.7px;top:79.6px;font-size:11px;color:#ff9a2e;transform-origin:0 0;transform:scaleX(0.9306);">Pound</div>
<div class="t" style="left:171.3px;top:79.6px;font-size:11px;color:#ff9a2e;transform-origin:0 0;transform:scaleX(1.3086);">/</div>
<div class="t" style="left:178.8px;top:79.6px;font-size:11px;color:#ff9a2e;transform-origin:0 0;transform:scaleX(0.8442);">US</div>
<div class="t" style="left:195.2px;top:79.6px;font-size:11px;color:#ff9a2e;letter-spacing:0.018px;">Dollar)</div>
<div class="t" style="left:231.7px;top:79.6px;font-size:11px;color:#ff9a2e;transform-origin:0 0;transform:scaleX(0.9179);">Open</div>
<div class="t" style="left:261.4px;top:79.6px;font-size:11px;color:#ff9a2e;transform-origin:0 0;transform:scaleX(1.1520);">=</div>
<div class="t" style="left:272px;top:79.6px;font-size:11px;color:#ff9a2e;letter-spacing:-0.069px;">1,4383</div>
<div class="t" style="left:308.8px;top:79.6px;font-size:11px;color:#ff9a2e;transform-origin:0 0;transform:scaleX(0.9549);">High</div>
<div class="t" style="left:335.7px;top:79.6px;font-size:11px;color:#ff9a2e;transform-origin:0 0;transform:scaleX(1.1520);">=</div>
<div class="t" style="left:346.3px;top:79.6px;font-size:11px;color:#ff9a2e;letter-spacing:-0.069px;">1,4407</div>
<div class="t" style="left:383.1px;top:79.6px;font-size:11px;color:#ff9a2e;letter-spacing:-0.339px;">Low</div>
<div class="t" style="left:406.7px;top:79.6px;font-size:11px;color:#ff9a2e;letter-spacing:0.176px;">=</div>
<div class="t" style="left:417.6px;top:79.6px;font-size:11px;color:#ff9a2e;letter-spacing:-0.129px;">1,4368</div>
<div class="t" style="left:454.2px;top:79.6px;font-size:11px;color:#ff9a2e;transform-origin:0 0;transform:scaleX(0.9281);">Close</div>
<div class="t" style="left:484.4px;top:79.6px;font-size:11px;color:#ff9a2e;transform-origin:0 0;transform:scaleX(1.1520);">=</div>
<div class="t" style="left:494.7px;top:79.6px;font-size:11px;color:#ff9a2e;letter-spacing:-0.009px;">1,4399</div>
<div class="t" style="left:531.2px;top:79.6px;font-size:11px;color:#ff9a2e;letter-spacing:-0.219px;">ATRStop</div>
<div class="t" style="left:577.3px;top:79.6px;font-size:11px;color:#ff9a2e;transform-origin:0 0;transform:scaleX(1.1520);">=</div>
<div class="t" style="left:588.8px;top:79.6px;font-size:11px;color:#ff9a2e;letter-spacing:-0.069px;">1,4447</div>
<div class="t" style="left:43px;top:574.8px;font-size:12px;color:#222;letter-spacing:-0.082px;">Copyright 2001-2014 MTPredictor Ltd</div>
<div class="abs" style="left:1000px;top:100px;width:39px;height:480px;overflow:hidden">
<div class="t" style="left:3px;top:14.5px;font-size:12.5px;color:#222;letter-spacing:-0.246px;">1,4800</div>
<div class="t" style="left:3px;top:64.5px;font-size:12.5px;color:#222;letter-spacing:-0.246px;">1,4700</div>
<div class="t" style="left:3px;top:113.5px;font-size:12.5px;color:#222;letter-spacing:-0.246px;">1,4600</div>
<div class="t" style="left:3px;top:162.5px;font-size:12.5px;color:#222;letter-spacing:-0.246px;">1,4500</div>
<div class="t" style="left:3px;top:260.5px;font-size:12.5px;color:#222;letter-spacing:-0.246px;">1,4300</div>
<div class="t" style="left:3px;top:310.5px;font-size:12.5px;color:#222;letter-spacing:-0.246px;">1,4200</div>
<div class="t" style="left:3px;top:359.5px;font-size:12.5px;color:#222;letter-spacing:-0.246px;">1,4100</div>
<div class="t" style="left:3px;top:408.5px;font-size:12.5px;color:#222;letter-spacing:-0.246px;">1,4000</div>
<div class="t" style="left:3px;top:457.5px;font-size:12.5px;color:#222;letter-spacing:-0.246px;">1,3900</div>
<div class="t" style="left:2.5px;top:211.5px;font-size:12.5px;color:#111;font-weight:bold;letter-spacing:0.154px;">1,4399</div>
</div>
<div class="t" style="left:394px;top:596px;font-size:12px;color:#222;letter-spacing:0.095px;">26 апр</div>
<div class="t" style="left:820px;top:596px;font-size:12px;color:#222;letter-spacing:-0.062px;">19 май</div>
<div class="t" style="left:275.5px;top:291.5px;font-size:13px;color:#ee1493;transform-origin:0 0;transform:scaleX(1.0520);">DP</div>
<div class="t" style="left:624px;top:334px;font-size:12.5px;color:#0000e6;font-weight:bold;transform-origin:0 0;transform:scaleX(1.1526);">(A)</div>
<div class="t" style="left:710px;top:237px;font-size:12.5px;color:#0000e6;font-weight:bold;transform-origin:0 0;transform:scaleX(1.1526);">(B)</div>
<div class="t" style="left:756px;top:355px;font-size:12.5px;color:#0000e6;font-weight:bold;transform-origin:0 0;transform:scaleX(1.1526);">(C)</div>
<div class="t" style="left:818px;top:374.8px;font-size:10px;color:#222;letter-spacing:0.024px;">minimum wave C</div>
<div class="t" style="left:824px;top:445.8px;font-size:10px;color:#222;letter-spacing:-0.037px;">typical wave C</div>
<div class="t" style="left:945px;top:101px;font-size:10px;color:#000;height:10px;border-bottom:1px solid #4a4aff;">R</div>
<div class="t" style="left:695px;top:326px;font-size:7px;color:#6a7a3a;">dp</div>
<svg class="abs" style="left:0;top:620px" width="1043" height="48">
<rect x="43.5" y="5.5" width="946" height="36" fill="#f4f4f4" stroke="#8c8c8c"/>
<rect x="200" y="6" width="1" height="35" fill="#cfcfcf"/>
<rect x="412" y="6" width="1" height="35" fill="#cfcfcf"/>
<rect x="624" y="6" width="1" height="35" fill="#cfcfcf"/>
<rect x="838" y="6" width="1" height="35" fill="#cfcfcf"/>
<rect x="990" y="14" width="3" height="1" fill="#c8c8c8"/><rect x="990" y="27" width="3" height="1" fill="#c8c8c8"/>
<rect x="43" y="34" width="1" height="7" fill="#0000ff"/>
<rect x="47" y="23" width="1" height="18" fill="#ff0000"/>
<rect x="51" y="12" width="1" height="29" fill="#ff0000"/>
<rect x="56" y="7" width="1" height="34" fill="#ff0000"/>
<rect x="60" y="23" width="1" height="18" fill="#0000ff"/>
<rect x="64" y="36" width="1" height="5" fill="#0000ff"/>
<rect x="68" y="34" width="1" height="7" fill="#0000ff"/>
<rect x="73" y="14" width="1" height="27" fill="#ff0000"/>
<rect x="77" y="11" width="1" height="30" fill="#0000ff"/>
<rect x="81" y="12" width="1" height="29" fill="#0000ff"/>
<rect x="85" y="29" width="1" height="12" fill="#0000ff"/>
<rect x="90" y="36" width="1" height="5" fill="#0000ff"/>
<rect x="94" y="36" width="1" height="5" fill="#0000ff"/>
<rect x="98" y="17" width="1" height="24" fill="#ff0000"/>
<rect x="102" y="21" width="1" height="20" fill="#0000ff"/>
<rect x="107" y="14" width="1" height="27" fill="#0000ff"/>
<rect x="111" y="31" width="1" height="10" fill="#0000ff"/>
<rect x="115" y="37" width="1" height="4" fill="#0000ff"/>
<rect x="119" y="34" width="1" height="7" fill="#0000ff"/>
<rect x="123" y="21" width="1" height="20" fill="#ff0000"/>
<rect x="128" y="18" width="1" height="23" fill="#0000ff"/>
<rect x="132" y="16" width="1" height="25" fill="#0000ff"/>
<rect x="136" y="34" width="1" height="7" fill="#0000ff"/>
<rect x="140" y="36" width="1" height="5" fill="#0000ff"/>
<rect x="145" y="36" width="1" height="5" fill="#0000ff"/>
<rect x="149" y="21" width="1" height="20" fill="#ff0000"/>
<rect x="153" y="16" width="1" height="25" fill="#ff0000"/>
<rect x="157" y="11" width="1" height="30" fill="#0000ff"/>
<rect x="162" y="31" width="1" height="10" fill="#0000ff"/>
<rect x="166" y="34" width="1" height="7" fill="#0000ff"/>
<rect x="170" y="34" width="1" height="7" fill="#0000ff"/>
<rect x="174" y="21" width="1" height="20" fill="#ff0000"/>
<rect x="179" y="16" width="1" height="25" fill="#ff0000"/>
<rect x="183" y="11" width="1" height="30" fill="#ff0000"/>
<rect x="187" y="33" width="1" height="8" fill="#0000ff"/>
<rect x="191" y="34" width="1" height="7" fill="#0000ff"/>
<rect x="195" y="31" width="1" height="10" fill="#0000ff"/>
<rect x="200" y="22" width="1" height="19" fill="#ff0000"/>
<rect x="204" y="14" width="1" height="27" fill="#0000ff"/>
<rect x="208" y="21" width="1" height="20" fill="#0000ff"/>
<rect x="212" y="33" width="1" height="8" fill="#0000ff"/>
<rect x="217" y="37" width="1" height="4" fill="#0000ff"/>
<rect x="221" y="36" width="1" height="5" fill="#0000ff"/>
<rect x="225" y="29" width="1" height="12" fill="#ff0000"/>
<rect x="229" y="22" width="1" height="19" fill="#ff0000"/>
<rect x="234" y="19" width="1" height="22" fill="#ff0000"/>
<rect x="238" y="34" width="1" height="7" fill="#0000ff"/>
<rect x="242" y="34" width="1" height="7" fill="#0000ff"/>
<rect x="246" y="36" width="1" height="5" fill="#0000ff"/>
<rect x="251" y="24" width="1" height="17" fill="#ff0000"/>
<rect x="255" y="22" width="1" height="19" fill="#0000ff"/>
<rect x="259" y="16" width="1" height="25" fill="#ff0000"/>
<rect x="263" y="33" width="1" height="8" fill="#0000ff"/>
<rect x="267" y="36" width="1" height="5" fill="#0000ff"/>
<rect x="272" y="36" width="1" height="5" fill="#0000ff"/>
<rect x="276" y="24" width="1" height="17" fill="#ff0000"/>
<rect x="280" y="16" width="1" height="25" fill="#ff0000"/>
<rect x="284" y="12" width="1" height="29" fill="#0000ff"/>
<rect x="289" y="33" width="1" height="8" fill="#0000ff"/>
<rect x="293" y="36" width="1" height="5" fill="#0000ff"/>
<rect x="297" y="36" width="1" height="5" fill="#0000ff"/>
<rect x="301" y="24" width="1" height="17" fill="#ff0000"/>
<rect x="306" y="19" width="1" height="22" fill="#ff0000"/>
<rect x="310" y="15" width="1" height="26" fill="#ff0000"/>
<rect x="314" y="31" width="1" height="10" fill="#0000ff"/>
<rect x="318" y="37" width="1" height="4" fill="#0000ff"/>
<rect x="323" y="36" width="1" height="5" fill="#0000ff"/>
<rect x="327" y="21" width="1" height="20" fill="#ff0000"/>
<rect x="331" y="11" width="1" height="30" fill="#ff0000"/>
<rect x="335" y="8" width="1" height="33" fill="#0000ff"/>
<rect x="339" y="33" width="1" height="8" fill="#0000ff"/>
<rect x="344" y="36" width="1" height="5" fill="#0000ff"/>
<rect x="348" y="35" width="1" height="6" fill="#0000ff"/>
<rect x="352" y="22" width="1" height="19" fill="#ff0000"/>
<rect x="356" y="16" width="1" height="25" fill="#ff0000"/>
<rect x="361" y="9" width="1" height="32" fill="#0000ff"/>
<rect x="365" y="31" width="1" height="10" fill="#0000ff"/>
<rect x="369" y="33" width="1" height="8" fill="#0000ff"/>
<rect x="373" y="35" width="1" height="6" fill="#0000ff"/>
<rect x="378" y="21" width="1" height="20" fill="#ff0000"/>
<rect x="382" y="17" width="1" height="24" fill="#ff0000"/>
<rect x="386" y="17" width="1" height="24" fill="#0000ff"/>
<rect x="390" y="33" width="1" height="8" fill="#0000ff"/>
<rect x="395" y="36" width="1" height="5" fill="#0000ff"/>
<rect x="399" y="34" width="1" height="7" fill="#0000ff"/>
<rect x="403" y="19" width="1" height="22" fill="#ff0000"/>
<rect x="407" y="16" width="1" height="25" fill="#0000ff"/>
<rect x="411" y="11" width="1" height="30" fill="#0000ff"/>
<rect x="416" y="33" width="1" height="8" fill="#0000ff"/>
<rect x="420" y="38" width="1" height="3" fill="#0000ff"/>
<rect x="424" y="30" width="1" height="11" fill="#0000ff"/>
<rect x="428" y="21" width="1" height="20" fill="#ff0000"/>
<rect x="433" y="22" width="1" height="19" fill="#0000ff"/>
<rect x="437" y="16" width="1" height="25" fill="#0000ff"/>
<rect x="441" y="14" width="1" height="27" fill="#ff0000"/>
<rect x="445" y="33" width="1" height="8" fill="#0000ff"/>
<rect x="450" y="29" width="1" height="12" fill="#0000ff"/>
<rect x="454" y="16" width="1" height="25" fill="#0000ff"/>
<rect x="458" y="17" width="1" height="24" fill="#0000ff"/>
<rect x="462" y="17" width="1" height="24" fill="#0000ff"/>
<rect x="467" y="31" width="1" height="10" fill="#0000ff"/>
<rect x="471" y="36" width="1" height="5" fill="#0000ff"/>
<rect x="475" y="31" width="1" height="10" fill="#0000ff"/>
<rect x="479" y="21" width="1" height="20" fill="#ff0000"/>
<rect x="483" y="16" width="1" height="25" fill="#0000ff"/>
<rect x="488" y="9" width="1" height="32" fill="#0000ff"/>
<rect x="492" y="26" width="1" height="15" fill="#0000ff"/>
<rect x="496" y="31" width="1" height="10" fill="#0000ff"/>
<rect x="500" y="30" width="1" height="11" fill="#0000ff"/>
<rect x="505" y="26" width="1" height="15" fill="#0000ff"/>
<rect x="509" y="23" width="1" height="18" fill="#ff0000"/>
<rect x="513" y="16" width="1" height="25" fill="#0000ff"/>
<rect x="517" y="31" width="1" height="10" fill="#0000ff"/>
<rect x="522" y="35" width="1" height="6" fill="#0000ff"/>
<rect x="526" y="30" width="1" height="11" fill="#0000ff"/>
<rect x="530" y="9" width="1" height="32" fill="#ff0000"/>
<rect x="534" y="11" width="1" height="30" fill="#0000ff"/>
<rect x="538" y="9" width="1" height="32" fill="#0000ff"/>
<rect x="543" y="28" width="1" height="13" fill="#0000ff"/>
<rect x="547" y="34" width="1" height="7" fill="#0000ff"/>
<rect x="551" y="28" width="1" height="13" fill="#0000ff"/>
<rect x="555" y="16" width="1" height="25" fill="#ff0000"/>
<rect x="560" y="11" width="1" height="30" fill="#0000ff"/>
<rect x="564" y="9" width="1" height="32" fill="#0000ff"/>
<rect x="568" y="31" width="1" height="10" fill="#0000ff"/>
<rect x="572" y="36" width="1" height="5" fill="#0000ff"/>
<rect x="577" y="33" width="1" height="8" fill="#0000ff"/>
<rect x="581" y="19" width="1" height="22" fill="#ff0000"/>
<rect x="585" y="16" width="1" height="25" fill="#ff0000"/>
<rect x="589" y="11" width="1" height="30" fill="#0000ff"/>
<rect x="594" y="31" width="1" height="10" fill="#0000ff"/>
<rect x="598" y="36" width="1" height="5" fill="#0000ff"/>
<rect x="602" y="30" width="1" height="11" fill="#0000ff"/>
<rect x="606" y="21" width="1" height="20" fill="#ff0000"/>
<rect x="610" y="11" width="1" height="30" fill="#ff0000"/>
<rect x="615" y="11" width="1" height="30" fill="#0000ff"/>
<rect x="619" y="31" width="1" height="10" fill="#0000ff"/>
<rect x="623" y="33" width="1" height="8" fill="#0000ff"/>
<rect x="627" y="33" width="1" height="8" fill="#0000ff"/>
<rect x="632" y="17" width="1" height="24" fill="#ff0000"/>
<rect x="636" y="16" width="1" height="25" fill="#0000ff"/>
<rect x="640" y="16" width="1" height="25" fill="#0000ff"/>
<rect x="644" y="34" width="1" height="7" fill="#0000ff"/>
<rect x="649" y="33" width="1" height="8" fill="#0000ff"/>
<rect x="653" y="26" width="1" height="15" fill="#0000ff"/>
<rect x="657" y="23" width="1" height="18" fill="#ff0000"/>
<rect x="661" y="16" width="1" height="25" fill="#0000ff"/>
<rect x="666" y="14" width="1" height="27" fill="#0000ff"/>
<rect x="670" y="34" width="1" height="7" fill="#0000ff"/>
<rect x="674" y="33" width="1" height="8" fill="#0000ff"/>
<rect x="678" y="31" width="1" height="10" fill="#0000ff"/>
<rect x="682" y="23" width="1" height="18" fill="#ff0000"/>
<rect x="687" y="22" width="1" height="19" fill="#ff0000"/>
<rect x="691" y="16" width="1" height="25" fill="#0000ff"/>
<rect x="695" y="34" width="1" height="7" fill="#0000ff"/>
<rect x="699" y="33" width="1" height="8" fill="#0000ff"/>
<rect x="704" y="34" width="1" height="7" fill="#0000ff"/>
<rect x="708" y="24" width="1" height="17" fill="#ff0000"/>
<rect x="712" y="14" width="1" height="27" fill="#ff0000"/>
<rect x="716" y="14" width="1" height="27" fill="#ff0000"/>
<rect x="721" y="33" width="1" height="8" fill="#0000ff"/>
<rect x="725" y="33" width="1" height="8" fill="#0000ff"/>
<rect x="729" y="30" width="1" height="11" fill="#0000ff"/>
<rect x="733" y="19" width="1" height="22" fill="#ff0000"/>
<rect x="738" y="17" width="1" height="24" fill="#ff0000"/>
<rect x="742" y="14" width="1" height="27" fill="#0000ff"/>
<rect x="746" y="23" width="1" height="18" fill="#0000ff"/>
<rect x="750" y="36" width="1" height="5" fill="#0000ff"/>
<rect x="754" y="37" width="1" height="4" fill="#0000ff"/>
<rect x="759" y="28" width="1" height="13" fill="#0000ff"/>
<rect x="763" y="26" width="1" height="15" fill="#ff0000"/>
<rect x="767" y="30" width="1" height="11" fill="#0000ff"/>
</svg>
<div class="t" style="left:58px;top:628.5px;font-size:12px;color:#ff9a2e;transform-origin:0 0;transform:scaleX(0.9244);">Volume</div>
<div class="t" style="left:104px;top:628.5px;font-size:12px;color:#ff9a2e;transform-origin:0 0;transform:scaleX(0.9322);text-decoration:underline;">(settings)</div>
</div></body></html>
